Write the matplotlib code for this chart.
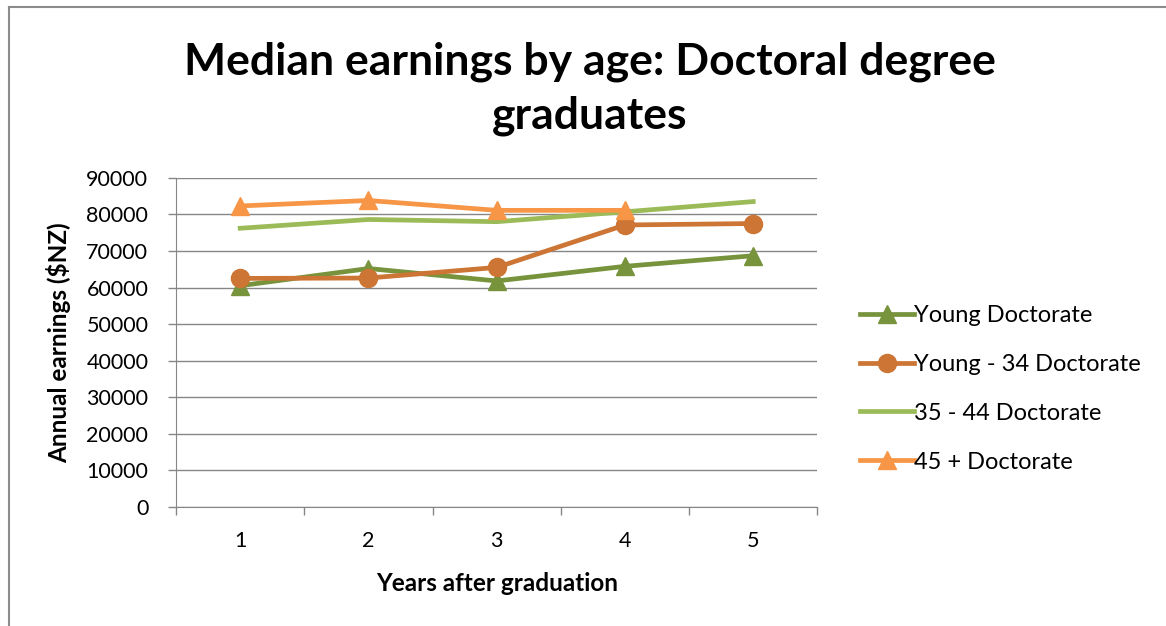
import matplotlib
import numpy as np

matplotlib.use("Agg")
import matplotlib.pyplot as plt  # noqa: E402
from matplotlib.lines import Line2D  # noqa: E402

plt.rcParams["font.family"] = ["Lato", "DejaVu Sans"]

years = ["1", "2", "3", "4", "5"]
young = [60500, 65200, 61800, 65800, 68700]
young_34 = [62500, 62600, 65500, 77100, 77500]
mid_35_44 = [76200, 78600, 78000, 80700, 83500]
older_45 = [82300, 83800, 81100, 81100, np.nan]

y_ticks = list(range(0, 90001, 10000))

GRID = "#868686"

fig = plt.figure(figsize=(11.66, 6.26), dpi=100)
ax = fig.add_axes([0.151, 0.19, 0.550, 0.526])

x = np.arange(1, len(years) + 1)
ax.plot(x, young, color="#77933C", lw=3.4, marker="^", ms=13,
        label="Young Doctorate", zorder=3)
ax.plot(x, young_34, color="#CC7534", lw=3.4, marker="o", ms=13,
        label="Young - 34 Doctorate", zorder=3)
ax.plot(x, mid_35_44, color="#9BBB59", lw=3.4,
        label="35 - 44 Doctorate", zorder=3)
ax.plot(x, older_45, color="#F79646", lw=3.4, marker="^", ms=13,
        label="45 + Doctorate", zorder=3)

ax.set_xlim(0.5, len(years) + 0.5)
ax.set_ylim(0, 90000)
ax.set_yticks(y_ticks)
ax.set_yticklabels([str(v) for v in y_ticks], fontsize=15.5)
ax.set_xticks(x)
ax.set_xticklabels(years, fontsize=15.5)
ax.set_xticks(np.arange(0.5, len(years) + 1), minor=True)
ax.tick_params(axis="x", which="major", length=0, pad=17)
ax.tick_params(axis="x", which="minor", length=6, color=GRID, width=1)
ax.tick_params(axis="y", length=6, color=GRID, width=1, pad=14)
ax.grid(axis="y", color=GRID, lw=1)
ax.set_axisbelow(True)
for side in ("top", "right"):
    ax.spines[side].set_visible(False)
for side in ("left", "bottom"):
    ax.spines[side].set_color(GRID)

ax.set_xlabel("Years after graduation", fontsize=17.5, fontweight="bold")
ax.set_ylabel("Annual earnings ($NZ)", fontsize=17.5, fontweight="bold")
ax.xaxis.set_label_coords(0.5, -0.196)
ax.yaxis.set_label_coords(-0.163, 0.5)

fig.text(0.506, 0.858, "Median earnings by age: Doctoral degree\ngraduates",
         ha="center", va="center", fontsize=32, fontweight="bold",
         linespacing=1.42)

fig.legend(loc="center left", bbox_to_anchor=(0.719, 0.379), frameon=False,
           fontsize=17, handlelength=2.3, handletextpad=0.0,
           labelspacing=1.18)

# chart-area border (left and top edges visible)
fig.add_artist(Line2D([0.0077, 0.0077], [0.0, 0.9888], color="#8c8c8c",
                      lw=1.5, transform=fig.transFigure))
fig.add_artist(Line2D([0.0077, 1.0], [0.9888, 0.9888], color="#8c8c8c",
                      lw=1.5, transform=fig.transFigure))

fig.savefig("out.png", dpi=100)
